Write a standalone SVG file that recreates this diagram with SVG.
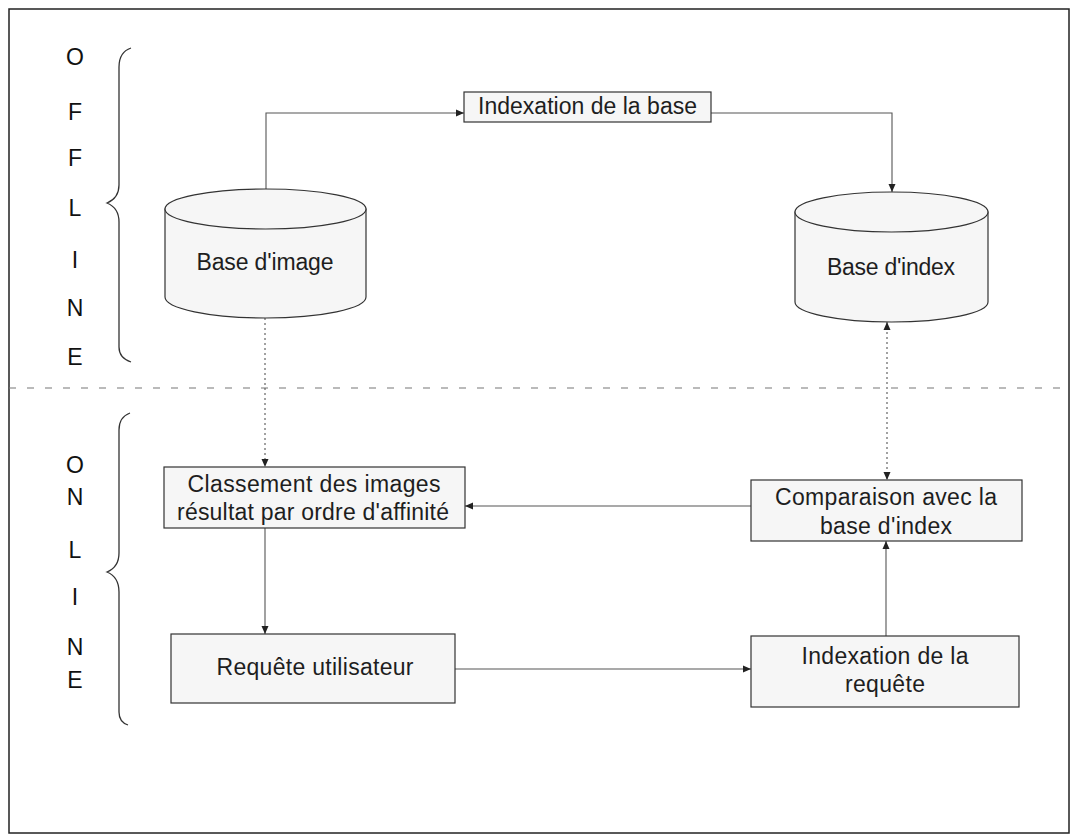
<svg xmlns="http://www.w3.org/2000/svg" width="1076" height="840" viewBox="0 0 1076 840">
<style>
  .frame{fill:#ffffff;stroke:#222;stroke-width:1.5}
  .box{fill:#f6f6f6;stroke:#333;stroke-width:1.2}
  .cyl{fill:#f6f6f6;stroke:#333;stroke-width:1.2}
  .lbl{font-family:"Liberation Sans",Arial,sans-serif;font-size:23px;fill:#1e1e1e;text-anchor:middle}
  .side{font-family:"Liberation Sans",Arial,sans-serif;font-size:23px;fill:#111;text-anchor:middle}
  .brace{fill:none;stroke:#333;stroke-width:1.3}
  .sep{fill:none;stroke:#777;stroke-width:1.2;stroke-dasharray:7 11}
  .conn{fill:none;stroke:#555;stroke-width:1.1}
  .dot{fill:none;stroke:#555;stroke-width:1.1;stroke-dasharray:2 3}
</style>
<defs>
  <marker id="ah" viewBox="0 0 8 8" refX="8" refY="4" markerWidth="8" markerHeight="8" markerUnits="userSpaceOnUse" orient="auto-start-reverse">
    <path d="M0,0.5 L8,4 L0,7.5 Z" fill="#222"/>
  </marker>
</defs>
<rect class="frame" x="9" y="9" width="1060" height="824"/>

<g id="offline-label">
  <text class="side" x="75" y="65">O</text>
  <text class="side" x="75" y="120">F</text>
  <text class="side" x="75" y="166">F</text>
  <text class="side" x="75" y="216">L</text>
  <text class="side" x="75" y="268">I</text>
  <text class="side" x="75" y="316">N</text>
  <text class="side" x="75" y="365">E</text>
  <path class="brace" d="M131,48 Q119,52 119,67 V185 Q119,198 107,203 Q119,208 119,222 V347 Q119,358 131,362"/>
</g>
<g id="online-label">
  <text class="side" x="75" y="473">O</text>
  <text class="side" x="75" y="505">N</text>
  <text class="side" x="75" y="558">L</text>
  <text class="side" x="75" y="605">I</text>
  <text class="side" x="75" y="655">N</text>
  <text class="side" x="75" y="688">E</text>
  <path class="brace" d="M130,413 Q119,417 119,430 V553 Q119,567 107,572 Q119,577 119,592 V712 Q119,722 128,725"/>
</g>

<line id="separator" class="sep" x1="9" y1="388" x2="1069" y2="388"/>

<g id="connectors">
  <path class="conn" d="M266,189 V113 H464" marker-end="url(#ah)"/>
  <path class="conn" d="M711,113 H892 V192" marker-end="url(#ah)"/>
  <path class="dot" d="M265,318 V467" marker-end="url(#ah)"/>
  <path class="dot" d="M887,322 V480" marker-start="url(#ah)" marker-end="url(#ah)"/>
  <path class="conn" d="M751,506 H465" marker-end="url(#ah)"/>
  <path class="conn" d="M265,528 V634" marker-end="url(#ah)"/>
  <path class="conn" d="M455,669 H751" marker-end="url(#ah)"/>
  <path class="conn" d="M886,636 V541" marker-end="url(#ah)"/>
</g>

<g id="indexation-base">
  <rect class="box" x="464" y="92" width="247" height="30"/>
  <text class="lbl" x="587.5" y="114" textLength="219" lengthAdjust="spacing">Indexation de la base</text>
</g>

<g id="base-image">
  <path class="cyl" d="M165,209 V297 A100.5,21 0 0 0 366,297 V209 Z"/>
  <ellipse class="cyl" cx="265.5" cy="209" rx="100.5" ry="20"/>
  <text class="lbl" x="265" y="270" textLength="137" lengthAdjust="spacing">Base d'image</text>
</g>

<g id="base-index">
  <path class="cyl" d="M795,212 V302 A96.5,20 0 0 0 988,302 V212 Z"/>
  <ellipse class="cyl" cx="891.5" cy="212" rx="96.5" ry="20"/>
  <text class="lbl" x="891" y="275" textLength="128" lengthAdjust="spacing">Base d'index</text>
</g>

<g id="classement">
  <rect class="box" x="164" y="467" width="301" height="61"/>
  <text class="lbl" x="314" y="492" textLength="253" lengthAdjust="spacing">Classement des images</text>
  <text class="lbl" x="313" y="520" textLength="272" lengthAdjust="spacing">résultat par ordre d'affinité</text>
</g>

<g id="comparaison">
  <rect class="box" x="751" y="480" width="271" height="61"/>
  <text class="lbl" x="886" y="505" textLength="222" lengthAdjust="spacing">Comparaison avec la</text>
  <text class="lbl" x="886" y="534" textLength="132" lengthAdjust="spacing">base d'index</text>
</g>

<g id="requete-utilisateur">
  <rect class="box" x="171" y="634" width="284" height="69"/>
  <text class="lbl" x="315" y="675" textLength="197" lengthAdjust="spacing">Requête utilisateur</text>
</g>

<g id="indexation-requete">
  <rect class="box" x="751" y="636" width="268" height="71"/>
  <text class="lbl" x="885" y="664" textLength="167" lengthAdjust="spacing">Indexation de la</text>
  <text class="lbl" x="885" y="692" textLength="80" lengthAdjust="spacing">requête</text>
</g>
</svg>
